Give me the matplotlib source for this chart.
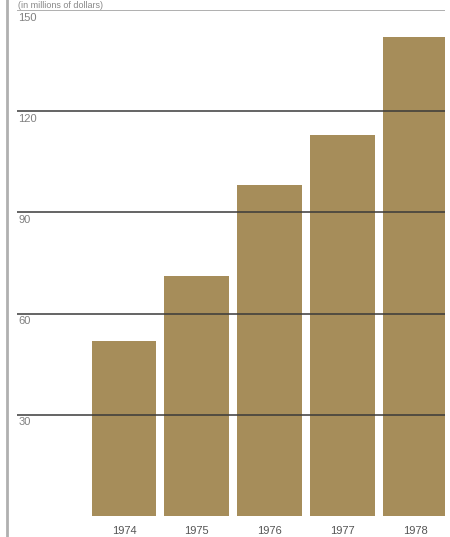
import numpy as np
import matplotlib.pyplot as plt

years = ['1974', '1975', '1976', '1977', '1978']
values = [52, 71, 98, 113, 142]
grid_levels = [30, 60, 90, 120, 150]
grid_labels = ['30', '60', '90', '120', '150']

bar_color = '#a68d5a'

fig = plt.figure(figsize=(4.5, 5.37), dpi=100)
ax = fig.add_axes([0.0378, 0.0391, 0.951, 0.9423])

pos = np.arange(len(years))
ax.bar(pos, values, width=0.89, color=bar_color, zorder=1)

# horizontal rules across the plot, drawn over the bars
for lev, lab in zip(grid_levels, grid_labels):
    c = '#9a9a9a' if lev == 150 else '#3a3a3a'
    ax.axhline(lev, color=c, lw=1.1, zorder=3)
    ax.text(-1.45, lev - 0.8, lab, fontsize=8, color='#808080', va='top', ha='left',
            family='Liberation Sans')

for p, y in zip(pos, years):
    ax.text(p, -3.0, y, fontsize=8, color='#555555', ha='center', va='top',
            family='Liberation Sans', clip_on=False)

ax.set_xlim(-1.47, 4.41)
ax.set_ylim(0, 150)
for s in ax.spines.values():
    s.set_visible(False)
ax.set_xticks([])
ax.set_yticks([])

# thin vertical rule at the left edge
fig.add_artist(plt.Line2D([0.016, 0.016], [0, 1], color='#b0b0b0', lw=2))

# units caption above the top rule
fig.text(0.04, 0.999, '(in millions of dollars)', fontsize=6.5, color='#888888',
         ha='left', va='top', family='Liberation Sans')

fig.savefig('out.png', dpi=100)
